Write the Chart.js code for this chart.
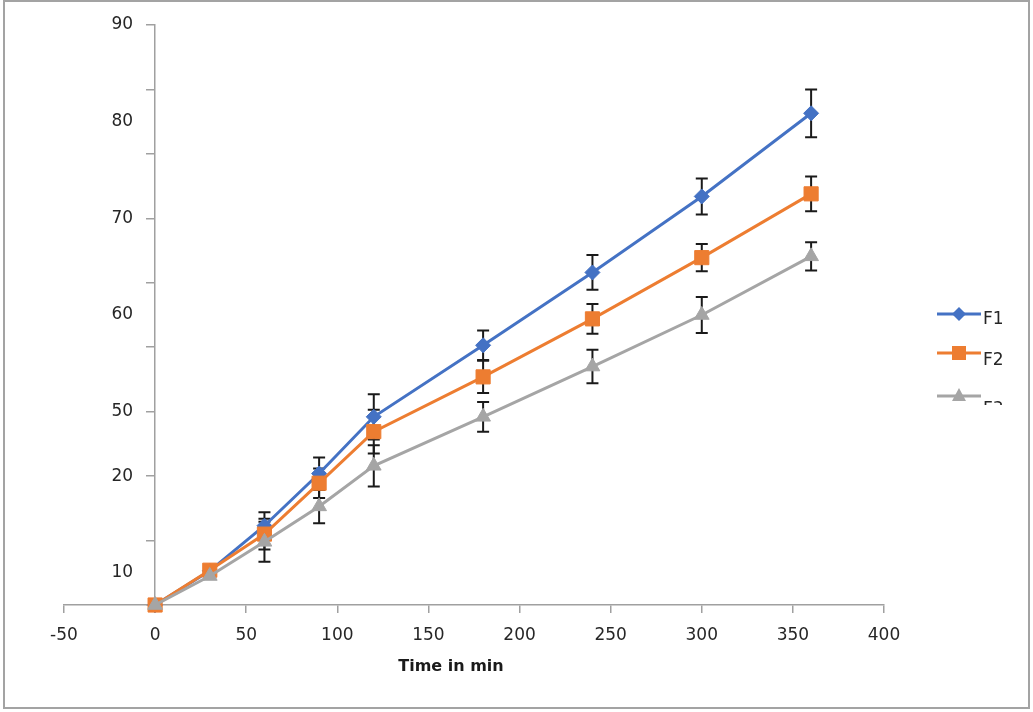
<!DOCTYPE html>
<html>
<head>
<meta charset="utf-8">
<script src="https://cdn.jsdelivr.net/npm/chart.js@4.4.0/dist/chart.umd.min.js"></script>
<style>
  html, body { margin: 0; padding: 0; background: #fff; }
  body { width: 1033px; height: 712px; position: relative; overflow: hidden; font-family: "DejaVu Sans", sans-serif; }
  #frame { position: absolute; left: 3px; top: 0; width: 1023px; height: 705px; border: 2px solid #a3a3a3; }
  #c { position: absolute; left: 0; top: 0; }
  #xtitle { position: absolute; left: 0; width: 902px; top: 656px; line-height: 20px; text-align: center; font-weight: bold; font-size: 16px; color: #1a1a1a; }
  #legend { position: absolute; left: 934px; top: 298px; width: 92px; height: 107px; overflow: hidden; }
  .lg-mark { position: absolute; left: 0; }
  .lg-text { position: absolute; left: 49px; font-size: 17px; line-height: 20px; color: #262626; }
</style>
</head>
<body>
<div id="frame"></div>
<canvas id="c" width="1033" height="712"></canvas>
<div id="xtitle">Time in min</div>
<div id="legend"></div>
<script>
// 시간 (min)
const TIME = [0, 30, 60, 90, 120, 180, 240, 300, 360];

// 그림에서 읽은 값 (축 눈금 단위)
const F1 = [0, 5.3, 12.3, 20.4, 29.2, 40.3, 51.6, 63.4, 76.3];
const F2 = [0, 5.4, 11.0, 18.9, 26.9, 35.4, 44.4, 53.9, 63.8];
const F3 = [0, 4.5, 9.8, 15.3, 21.6, 29.2, 37.0, 45.0, 54.1];

const F1_ERR = [0, 0, 2.1, 2.5, 3.5, 2.3, 2.7, 2.8, 3.7];
const F2_ERR = [0, 0, 2.4, 2.3, 3.4, 2.5, 2.3, 2.1, 2.7];
const F3_ERR = [0, 0, 3.1, 2.6, 3.2, 2.3, 2.6, 2.8, 2.2];

const NAMES  = ['F1', 'F2', 'F3'];
const COLORS = ['#4472c4', '#ed7d31', '#a5a5a5'];
const SHAPES = ['rectRot', 'rect', 'triangle'];
const RADII  = [7.5, 10, 8.5];

// y축 라벨 (원본 그대로 — 눈금과 어긋난 위치 포함)
const Y_TICK_VALUES = [5, 20, 30, 45, 60, 75, 90];
const Y_TICK_LABELS = ['10', '20', '50', '60', '70', '80', '90'];

const AXIS = '#a0a0a0';
const TXT = '#262626';
const FONT = '17px "DejaVu Sans"';

const series = [F1, F2, F3];
const errs = [F1_ERR, F2_ERR, F3_ERR];

const errorBars = {
  id: 'errorBars',
  beforeDatasetsDraw(chart) {
    const {ctx, scales: {x, y}} = chart;
    ctx.save();
    ctx.strokeStyle = '#1a1a1a';
    ctx.lineWidth = 2;
    errs.forEach((e, si) => {
      series[si].forEach((v, i) => {
        if (!e[i]) return;
        const px = x.getPixelForValue(TIME[i]);
        const top = y.getPixelForValue(v + e[i]);
        const bot = y.getPixelForValue(v - e[i]);
        ctx.beginPath();
        ctx.moveTo(px, top); ctx.lineTo(px, bot);
        ctx.moveTo(px - 6, top); ctx.lineTo(px + 6, top);
        ctx.moveTo(px - 6, bot); ctx.lineTo(px + 6, bot);
        ctx.stroke();
      });
    });
    ctx.restore();
  }
};

// y축이 x=0 에 걸려 있어서 라벨은 축 왼쪽에 직접 그림
const yLabels = {
  id: 'yLabels',
  afterDraw(chart) {
    const {ctx, scales: {x, y}} = chart;
    const ax = x.getPixelForValue(0);
    ctx.save();
    ctx.font = FONT;
    ctx.fillStyle = TXT;
    ctx.textAlign = 'right';
    ctx.textBaseline = 'middle';
    Y_TICK_VALUES.forEach((v, i) => ctx.fillText(Y_TICK_LABELS[i], ax - 22, y.getPixelForValue(v)));
    ctx.restore();
  }
};

new Chart(document.getElementById('c'), {
  type: 'line',
  data: {
    datasets: series.map((s, si) => ({
      label: NAMES[si],
      data: TIME.map((t, i) => ({x: t, y: s[i]})),
      borderColor: COLORS[si],
      backgroundColor: COLORS[si],
      borderWidth: 3,
      pointStyle: SHAPES[si],
      pointRadius: RADII[si],
      pointBorderWidth: 1,
      pointBorderColor: COLORS[si],
      pointBackgroundColor: COLORS[si],
      tension: 0,
      clip: false,
      order: 3 - si,
    })),
  },
  options: {
    responsive: false,
    animation: false,
    layout: { padding: { left: 64, right: 149, top: 25, bottom: 0 } },
    plugins: { legend: { display: false }, tooltip: { enabled: false } },
    scales: {
      x: {
        type: 'linear', position: 'bottom', min: -50, max: 400,
        afterFit: s => { s.height = 107; },
        ticks: { stepSize: 50, padding: 12, color: TXT, font: { family: 'DejaVu Sans', size: 17 } },
        grid: { drawOnChartArea: false, drawTicks: true, tickLength: 8, color: AXIS, lineWidth: 1.5 },
        border: { color: AXIS, width: 1.5 },
      },
      y: {
        type: 'linear', position: { x: 0 }, min: 0, max: 90,
        ticks: { stepSize: 10, display: false },
        grid: { drawOnChartArea: false, drawTicks: true, tickLength: 8, lineWidth: 1.5, color: AXIS },
        border: { color: AXIS, width: 1.5 },
      },
    },
  },
  plugins: [errorBars, yLabels],
});

// 범례 (선 + 마커) — 원본처럼 F3 는 아래가 잘림
const LEGEND_LINE_Y = [16, 55, 98];
const LEGEND_TEXT_Y = [10, 51, 100];
document.getElementById('legend').innerHTML = NAMES.map((n, si) => {
  const c = COLORS[si], cx = 25, cy = 12;
  let mk;
  if (SHAPES[si] === 'rectRot') mk = `<polygon points="${cx},${cy-7} ${cx+7},${cy} ${cx},${cy+7} ${cx-7},${cy}" fill="${c}"/>`;
  else if (SHAPES[si] === 'rect') mk = `<rect x="${cx-7}" y="${cy-7}" width="14" height="14" fill="${c}"/>`;
  else mk = `<polygon points="${cx},${cy-8} ${cx+7},${cy+5} ${cx-7},${cy+5}" fill="${c}"/>`;
  return `<svg class="lg-mark" style="top:${LEGEND_LINE_Y[si] - 12}px" width="50" height="24">` +
    `<line x1="3" y1="${cy}" x2="47" y2="${cy}" stroke="${c}" stroke-width="3"/>${mk}</svg>` +
    `<span class="lg-text" style="top:${LEGEND_TEXT_Y[si]}px">${n}</span>`;
}).join('');
</script>
</body>
</html>
